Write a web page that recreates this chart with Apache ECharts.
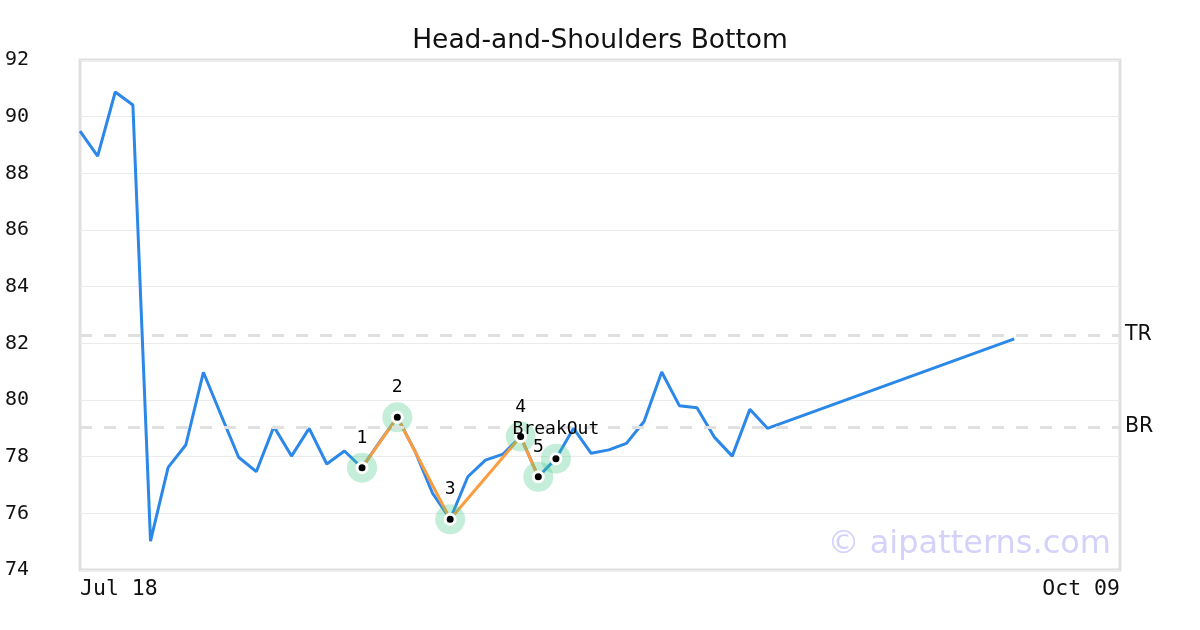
<!DOCTYPE html>
<html>
<head>
<meta charset="utf-8">
<script src="https://cdn.jsdelivr.net/npm/echarts@6/dist/echarts.min.js"></script>
<style>
html,body{margin:0;padding:0;background:#fff;}
#chart{width:1200px;height:630px;}
</style>
</head>
<body>
<div id="chart"></div>
<script>
// Trading-day categories (Jul 18 .. Oct 09)
const dates = [
  'Jul 18','Jul 19','Jul 20','Jul 21','Jul 24','Jul 25','Jul 26','Jul 27','Jul 28','Jul 31',
  'Aug 01','Aug 02','Aug 03','Aug 04','Aug 07','Aug 08','Aug 09','Aug 10','Aug 11',
  'Aug 14','Aug 15','Aug 16','Aug 17','Aug 18','Aug 21','Aug 22','Aug 23','Aug 24','Aug 25',
  'Aug 28','Aug 29','Aug 30','Aug 31','Sep 01','Sep 04','Sep 05','Sep 06','Sep 07','Sep 08',
  'Sep 11','Sep 12','Sep 13','Sep 14','Sep 15','Sep 18','Sep 19','Sep 20','Sep 21','Sep 22',
  'Sep 25','Sep 26','Sep 27','Sep 28','Sep 29','Oct 02','Oct 03','Oct 04','Oct 05','Oct 06','Oct 09'
];
// Price series (null = no data, line connects across)
const prices = [
  89.49, 88.61, 90.87, 90.41, 75.02, 77.62, 78.41, 80.98, 79.47, 77.98,
  77.47, 79.06, 78.02, 79.00, 77.74, 78.20, 77.61, 78.52, 79.39, 78.20,
  76.71, 75.79, 77.29, 77.88, 78.09, 78.71, 77.29, 77.93, 79.00, 78.12,
  78.24, 78.47, 79.24, 80.99, 79.80, 79.73, 78.68, 78.02, 79.67, 79.00,
  null, null, null, null, null, null, null, null, null, null,
  null, null, null, 82.16
];
// Pattern points (category index, value, label)
const patternIdx = [16, 18, 21, 25, 26, 27];
const patternVal = [77.61, 79.39, 75.79, 78.71, 77.29, 77.93];
const patternLabels = ['1', '2', '3', '4', '5', 'BreakOut'];
// Pattern outline (points 1..5)
const outlineCount = 5;
// Reference levels
const levelNames = ['TR', 'BR'];
const levelValues = [82.3, 79.05];
const yTicks = { min: 74, max: 92, interval: 2 };

const markerData = patternIdx.map((i, k) => [i, patternVal[k]]);
const outlineData = patternIdx.slice(0, outlineCount).map((i, k) => [i, patternVal[k]]);

const chart = echarts.init(document.getElementById('chart'), null, {renderer: 'canvas'});
chart.setOption({
  animation: false,
  backgroundColor: '#ffffff',
  title: {
    text: 'Head-and-Shoulders Bottom',
    left: 'center',
    top: 28,
    padding: 0,
    textStyle: {fontFamily: 'DejaVu Sans', fontSize: 26.5, fontWeight: 'normal', color: '#111'}
  },
  grid: {
    left: 80, right: 80, top: 60, bottom: 60,
    show: true, borderColor: '#e0e0e0', borderWidth: 3, backgroundColor: 'transparent'
  },
  xAxis: {
    type: 'category',
    data: dates,
    boundaryGap: false,
    axisLine: {show: false},
    axisTick: {show: false},
    splitLine: {show: false},
    axisLabel: {
      interval: (idx) => idx === 0 || idx === dates.length - 1,
      showMinLabel: true, showMaxLabel: true,
      alignMinLabel: 'left', alignMaxLabel: 'right',
      margin: 8,
      fontFamily: 'DejaVu Sans Mono', fontSize: 21.5, color: '#111'
    }
  },
  yAxis: {
    type: 'value',
    min: yTicks.min, max: yTicks.max, interval: yTicks.interval,
    axisLine: {show: false},
    axisTick: {show: false},
    splitLine: {show: true, lineStyle: {color: '#ebebeb', width: 1}},
    axisLabel: {
      align: 'left', margin: 75, lineHeight: 24, padding: [6, 0, 0, 0],
      fontFamily: 'DejaVu Sans Mono', fontSize: 20, color: '#111'
    }
  },
  graphic: [{
    type: 'text',
    right: 89,
    top: 529,
    z: 1,
    style: {
      text: '\u00a9 aipatterns.com',
      font: '32px "DejaVu Sans"',
      fill: '#d4d1fb'
    }
  }],
  series: [
    {
      type: 'line',
      data: prices,
      connectNulls: true,
      showSymbol: false,
      z: 2,
      lineStyle: {color: '#2b87e8', width: 3},
      markLine: {
        silent: true,
        symbol: 'none',
        lineStyle: {color: '#e0e0e0', width: 3, type: [12, 12]},
        label: {
          show: true, position: 'end', distance: 5, formatter: '{b}',
          fontFamily: 'DejaVu Sans', fontSize: 20.5, color: '#111'
        },
        data: levelNames.map((n, k) => ({name: n, yAxis: levelValues[k]}))
      }
    },
    {
      type: 'line',
      data: outlineData,
      showSymbol: false,
      z: 3,
      lineStyle: {color: '#fb9c3f', width: 3}
    },
    {
      type: 'scatter',
      data: markerData,
      symbol: 'circle',
      symbolSize: 30,
      z: 4,
      itemStyle: {color: 'rgba(60, 200, 130, 0.3)', opacity: 1}
    },
    {
      type: 'scatter',
      data: markerData,
      symbol: 'circle',
      symbolSize: 10,
      z: 5,
      itemStyle: {color: '#000', borderColor: '#fff', borderWidth: 3, opacity: 1},
      label: {
        show: true, position: 'top', distance: 14,
        formatter: (p) => patternLabels[p.dataIndex],
        fontFamily: 'DejaVu Sans Mono', fontSize: 18, color: '#000'
      }
    }
  ]
});
</script>
</body>
</html>
